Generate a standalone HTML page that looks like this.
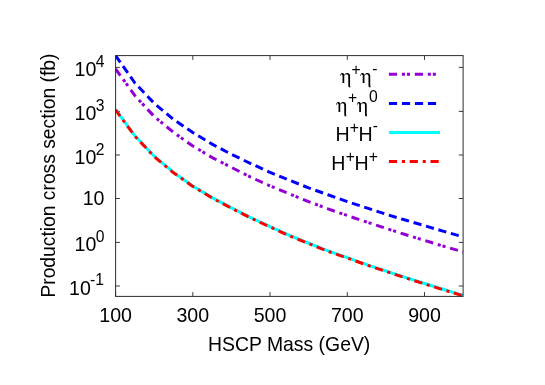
<!DOCTYPE html>
<html><head><meta charset="utf-8"><style>
html,body{margin:0;padding:0;background:#fff;}
svg{display:block;will-change:transform}
text{font-family:"Liberation Sans",sans-serif;font-size:20px;fill:#000}
.sup{font-size:16px}
.ax path{stroke:#3c3c3c;stroke-width:1;fill:none}
.ax rect{stroke:#2c2c2c;stroke-width:1;fill:none}
.c path{fill:none;stroke-width:3;stroke-linecap:butt;stroke-linejoin:round}
</style></head><body>
<svg width="545" height="385" viewBox="0 0 545 385">
<rect width="545" height="385" fill="#fff"/>
<g class="ax">
<path d="M115.60,296.4 v-4.3 M115.60,55.6 v4.3"/>
<path d="M192.82,296.4 v-4.3 M192.82,55.6 v4.3"/>
<path d="M270.04,296.4 v-4.3 M270.04,55.6 v4.3"/>
<path d="M347.27,296.4 v-4.3 M347.27,55.6 v4.3"/>
<path d="M424.49,296.4 v-4.3 M424.49,55.6 v4.3"/>
<path d="M115.6,67.40 h4.3 M463.1,67.40 h-4.3"/>
<path d="M115.6,111.40 h4.3 M463.1,111.40 h-4.3"/>
<path d="M115.6,155.00 h4.3 M463.1,155.00 h-4.3"/>
<path d="M115.6,198.50 h4.3 M463.1,198.50 h-4.3"/>
<path d="M115.6,242.40 h4.3 M463.1,242.40 h-4.3"/>
<path d="M115.6,286.00 h4.3 M463.1,286.00 h-4.3"/>
</g>
<g>
<text transform="translate(115.60,322.00) scale(0.98,1)" text-anchor="middle">100</text>
<text transform="translate(192.82,322.00) scale(0.98,1)" text-anchor="middle">300</text>
<text transform="translate(270.04,322.00) scale(0.98,1)" text-anchor="middle">500</text>
<text transform="translate(347.27,322.00) scale(0.98,1)" text-anchor="middle">700</text>
<text transform="translate(424.49,322.00) scale(0.98,1)" text-anchor="middle">900</text>
<text transform="translate(74.60,75.80) scale(0.98,1)" text-anchor="start">10</text><text transform="translate(95.70,66.80) scale(0.98,1)" text-anchor="start" class="sup">4</text>
<text transform="translate(74.60,120.30) scale(0.98,1)" text-anchor="start">10</text><text transform="translate(95.70,111.30) scale(0.98,1)" text-anchor="start" class="sup">3</text>
<text transform="translate(74.60,164.10) scale(0.98,1)" text-anchor="start">10</text><text transform="translate(95.70,154.60) scale(0.98,1)" text-anchor="start" class="sup">2</text>
<text transform="translate(104.50,205.20) scale(0.98,1)" text-anchor="end">10</text>
<text transform="translate(74.60,251.20) scale(0.98,1)" text-anchor="start">10</text><text transform="translate(95.70,241.60) scale(0.98,1)" text-anchor="start" class="sup">0</text>
<text transform="translate(69.00,294.80) scale(0.98,1)" text-anchor="start">10</text><text transform="translate(90.10,285.30) scale(0.98,1)" text-anchor="start" class="sup">-1</text>
<text transform="translate(208.00,351.30) scale(0.97,1)" text-anchor="start">HSCP Mass (GeV)</text>
<text transform="translate(55.00,297.60) rotate(-90) scale(0.964,1)" text-anchor="start">Production cross section (fb)</text>
</g>
<defs><clipPath id="cp"><rect x="115.1" y="55.1" width="348.5" height="241.79999999999998"/></clipPath></defs>
<g class="c" clip-path="url(#cp)">
<path d="M115.60,68.90 L134.91,95.70 L154.21,116.50 L173.52,132.40 L192.82,146.00 L212.13,157.55 L231.43,167.40 L250.74,177.20 L270.04,185.80 L289.35,193.90 L308.66,201.65 L327.96,208.85 L347.27,215.55 L366.57,222.00 L385.88,228.30 L405.18,234.55 L424.49,240.40 L443.79,246.30 L463.10,251.85" stroke="#9400d3" stroke-dasharray="8.2 4.77 3.1 1.9 3.1 4.77"/>
<path d="M115.60,55.60 L134.91,83.00 L154.21,103.30 L173.52,119.40 L192.82,132.55 L212.13,144.15 L231.43,154.35 L250.74,163.55 L270.04,172.30 L289.35,180.25 L308.66,187.90 L327.96,194.75 L347.27,201.55 L366.57,207.85 L385.88,214.20 L405.18,220.05 L424.49,225.70 L443.79,231.35 L463.10,236.90" stroke="#0000ff" stroke-dasharray="8.2 4.73"/>
<path d="M115.60,109.50 L134.91,135.80 L154.21,156.20 L173.52,172.40 L192.82,186.00 L212.13,197.60 L231.43,207.80 L250.74,217.60 L270.04,226.65 L289.35,235.35 L308.66,243.25 L327.96,250.85 L347.27,257.65 L366.57,264.55 L385.88,271.00 L405.18,277.40 L424.49,283.50 L443.79,289.50 L463.10,295.40" stroke="#00ffff"/>
<path d="M115.60,109.90 L134.91,136.20 L154.21,156.60 L173.52,172.80 L192.82,186.40 L212.13,198.00 L231.43,208.20 L250.74,218.00 L270.04,227.05 L289.35,235.75 L308.66,243.65 L327.96,251.25 L347.27,258.05 L366.57,264.95 L385.88,271.40 L405.18,277.80 L424.49,283.90 L443.79,289.90 L463.10,295.80" stroke="#ff0000" stroke-width="2.8" stroke-dasharray="8.2 4.7 3.1 4.68" stroke-dashoffset="0.6"/>
<path d="M388.9,74.3 H440" stroke="#9400d3" stroke-dasharray="8.2 4.8 3.1 1.9 3.1 4.8"/>
<path d="M388.9,103.5 H440" stroke="#0000ff" stroke-dasharray="8.2 4.8"/>
<path d="M388.9,132.4 H440" stroke="#00ffff"/>
<path d="M388.9,161.5 H440" stroke="#ff0000" stroke-dasharray="8.2 4.8 3.1 4.7"/>
</g>
<g class="ax"><rect x="115.6" y="55.6" width="347.5" height="240.79999999999998"/></g>
<g>
<g><title>η+η-</title><path transform="translate(340.2,82.9) scale(0.0195,-0.0195)" d="M119 0H207V364C243 418 278 443 322 443C379 443 414 404 414 340V-99C414 -133 420 -171 434 -222H527C511 -173 505 -147 505 -122V369C505 452 445 513 362 513C303 513 261 486 207 411C202 441 197 454 188 468C171 491 142 505 112 505C72 505 34 480 15 440C4 416 0 395 0 358H24C30 420 44 449 68 449C98 449 120 410 120 356Z" fill="#000"/><text transform="translate(351.50,74.80) scale(0.98,1)" text-anchor="start" class="sup">+</text><path transform="translate(360.4,82.9) scale(0.0195,-0.0195)" d="M119 0H207V364C243 418 278 443 322 443C379 443 414 404 414 340V-99C414 -133 420 -171 434 -222H527C511 -173 505 -147 505 -122V369C505 452 445 513 362 513C303 513 261 486 207 411C202 441 197 454 188 468C171 491 142 505 112 505C72 505 34 480 15 440C4 416 0 395 0 358H24C30 420 44 449 68 449C98 449 120 410 120 356Z" fill="#000"/><text transform="translate(372.30,73.80) scale(0.98,1)" text-anchor="start" class="sup">-</text></g>
<g><title>η+η0</title><path transform="translate(336.2,111.9) scale(0.0195,-0.0195)" d="M119 0H207V364C243 418 278 443 322 443C379 443 414 404 414 340V-99C414 -133 420 -171 434 -222H527C511 -173 505 -147 505 -122V369C505 452 445 513 362 513C303 513 261 486 207 411C202 441 197 454 188 468C171 491 142 505 112 505C72 505 34 480 15 440C4 416 0 395 0 358H24C30 420 44 449 68 449C98 449 120 410 120 356Z" fill="#000"/><text transform="translate(348.00,103.00) scale(0.98,1)" text-anchor="start" class="sup">+</text><path transform="translate(356.9,111.9) scale(0.0195,-0.0195)" d="M119 0H207V364C243 418 278 443 322 443C379 443 414 404 414 340V-99C414 -133 420 -171 434 -222H527C511 -173 505 -147 505 -122V369C505 452 445 513 362 513C303 513 261 486 207 411C202 441 197 454 188 468C171 491 142 505 112 505C72 505 34 480 15 440C4 416 0 395 0 358H24C30 420 44 449 68 449C98 449 120 410 120 356Z" fill="#000"/><text transform="translate(369.10,102.20) scale(0.98,1)" text-anchor="start" class="sup">0</text></g>
<text transform="translate(335.40,140.70) scale(0.98,1)" text-anchor="start">H</text><text transform="translate(349.80,133.20) scale(0.98,1)" text-anchor="start" class="sup">+</text><text transform="translate(358.40,140.70) scale(0.98,1)" text-anchor="start">H</text><text transform="translate(372.70,131.40) scale(0.98,1)" text-anchor="start" class="sup">-</text>
<text transform="translate(331.20,169.80) scale(0.98,1)" text-anchor="start">H</text><text transform="translate(345.80,162.30) scale(0.98,1)" text-anchor="start" class="sup">+</text><text transform="translate(354.60,169.80) scale(0.98,1)" text-anchor="start">H</text><text transform="translate(368.80,162.30) scale(0.98,1)" text-anchor="start" class="sup">+</text>
</g>
</svg>
</body></html>
